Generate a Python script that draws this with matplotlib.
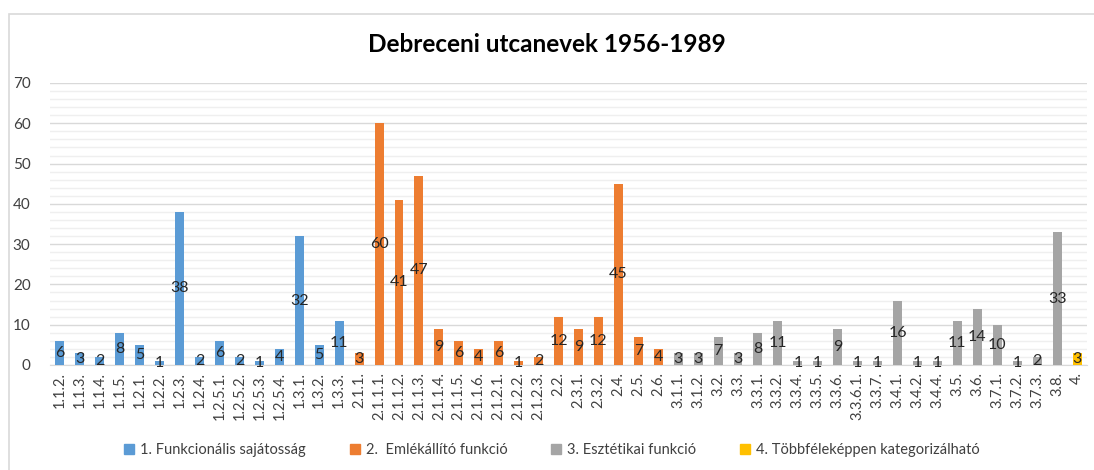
import matplotlib

matplotlib.use("Agg")
import matplotlib.pyplot as plt
from matplotlib.patches import Patch, Rectangle
from matplotlib.ticker import MultipleLocator

plt.rcParams["font.family"] = ["Lato", "DejaVu Sans"]

BLUE = "#5B9BD5"
ORANGE = "#ED7D31"
GRAY = "#A5A5A5"
GOLD = "#FFC000"

cats_1 = ["1.1.2.", "1.1.3.", "1.1.4.", "1.1.5.", "1.2.1.", "1.2.2.", "1.2.3.",
          "1.2.4.", "1.2.5.1.", "1.2.5.2.", "1.2.5.3.", "1.2.5.4.", "1.3.1.",
          "1.3.2.", "1.3.3."]
vals_1 = [6, 3, 2, 8, 5, 1, 38, 2, 6, 2, 1, 4, 32, 5, 11]

cats_2 = ["2.1.1.", "2.1.1.1.", "2.1.1.2.", "2.1.1.3.", "2.1.1.4.", "2.1.1.5.",
          "2.1.1.6.", "2.1.2.1.", "2.1.2.2.", "2.1.2.3.", "2.2.", "2.3.1.",
          "2.3.2.", "2.4.", "2.5.", "2.6."]
vals_2 = [3, 60, 41, 47, 9, 6, 4, 6, 1, 2, 12, 9, 12, 45, 7, 4]

cats_3 = ["3.1.1.", "3.1.2.", "3.2.", "3.3.", "3.3.1.", "3.3.2.", "3.3.4.",
          "3.3.5.", "3.3.6.", "3.3.6.1.", "3.3.7.", "3.4.1.", "3.4.2.", "3.4.4.",
          "3.5.", "3.6.", "3.7.1.", "3.7.2.", "3.7.3.", "3.8."]
vals_3 = [3, 3, 7, 3, 8, 11, 1, 1, 9, 1, 1, 16, 1, 1, 11, 14, 10, 1, 2, 33]

cats_4 = ["4."]
vals_4 = [3]

series = [
    ("1. Funkcionális sajátosság", cats_1, vals_1, BLUE),
    ("2.  Emlékállító funkció", cats_2, vals_2, ORANGE),
    ("3. Esztétikai funkció", cats_3, vals_3, GRAY),
    ("4. Többféleképpen kategorizálható", cats_4, vals_4, GOLD),
]

fig = plt.figure(figsize=(10.94, 4.70), dpi=100)
# chart-area frame, cut off at the right and bottom like the source
fig.patches.append(Rectangle((9 / 1094, -0.05), 1.2, 1 - 14 / 470 + 0.05,
                             transform=fig.transFigure, fill=False,
                             edgecolor="#D9D9D9", lw=1.2))
ax = fig.add_axes([50 / 1094, 1 - 365 / 470, 1037 / 1094, 282 / 470])

labels = []
pos = 0
handles = []
for name, cats, vals, color in series:
    xs = list(range(pos, pos + len(cats)))
    ax.bar(xs, vals, width=0.45, color=color, zorder=3)
    for x, v in zip(xs, vals):
        ax.text(x, v / 2, str(v), ha="center", va="center", fontsize=11.5,
                color="#262626", zorder=4)
    labels += cats
    pos += len(cats)
    handles.append(Patch(color=color, label=name))

ax.set_xlim(-0.5, pos - 0.5)
ax.set_ylim(0, 70)
ax.yaxis.set_major_locator(MultipleLocator(10))
ax.yaxis.set_minor_locator(MultipleLocator(2))
ax.grid(axis="y", which="major", color="#D9D9D9", lw=1.0, zorder=0)
ax.grid(axis="y", which="minor", color="#EFEFEF", lw=1.0, zorder=0)
ax.set_xticks(range(pos), labels, rotation=90, fontsize=10.5, color="#404040")
ax.tick_params(axis="y", labelsize=11, labelcolor="#404040", pad=14)
ax.tick_params(which="both", length=0)
ax.tick_params(axis="x", pad=5)
for side in ("top", "right", "left"):
    ax.spines[side].set_visible(False)
ax.spines["bottom"].set_color("#D9D9D9")

fig.text(0.5, 1 - 45 / 470, "Debreceni utcanevek 1956-1989", ha="center",
         va="center", fontsize=17.5, fontweight="bold", color="#000000")

fig.legend(handles=handles, loc="center", bbox_to_anchor=(552 / 1094, 1 - 450 / 470),
           ncol=4, frameon=False, fontsize=10.5, handlelength=0.7, handleheight=0.7,
           handletextpad=0.4, columnspacing=3.0, labelcolor="#404040")

fig.savefig("out.png", dpi=100)
